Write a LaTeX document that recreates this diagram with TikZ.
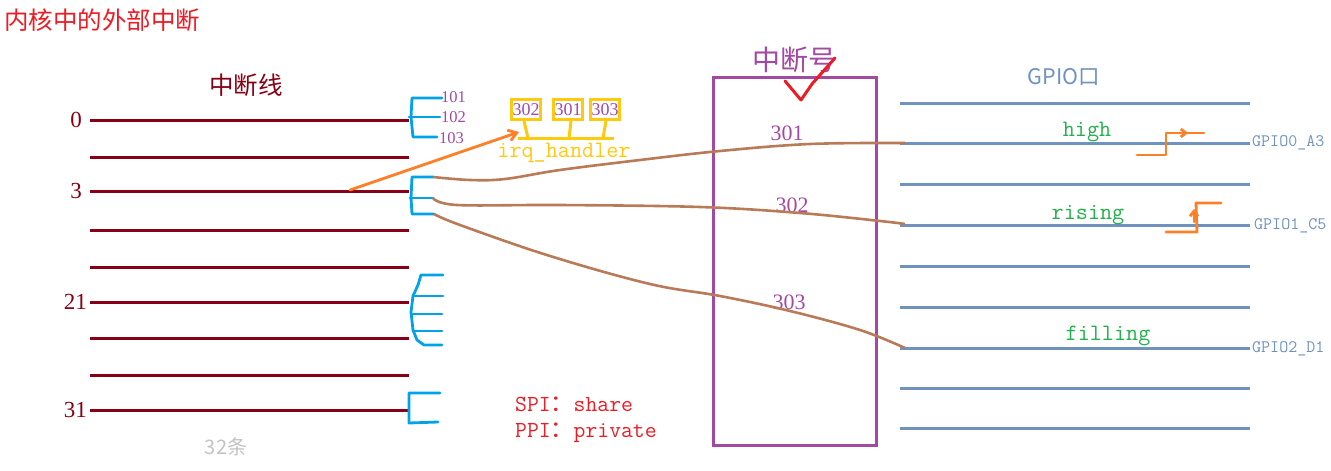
\documentclass[tikz,border=0pt]{standalone}
\usepackage{fontspec}
\setmainfont{Liberation Serif}
\newfontfamily\cjk{Noto Sans CJK SC}
\usetikzlibrary{arrows.meta}
\definecolor{dred}{HTML}{880015}
\definecolor{cyanb}{HTML}{00A2E8}
\definecolor{ppl}{HTML}{A349A4}
\definecolor{ylw}{HTML}{FFC90E}
\definecolor{org}{HTML}{FF7F27}
\definecolor{brn}{HTML}{B97A57}
\definecolor{sblue}{HTML}{7092BE}
\definecolor{grn}{HTML}{22B14C}
\definecolor{rd}{HTML}{ED1C24}
\definecolor{gry}{HTML}{C3C3C3}
\tikzset{
  irqline/.style={draw=dred,line width=3pt},
  gpioline/.style={draw=sblue,line width=3pt},
  brk/.style={draw=cyanb,line width=2.8pt,line cap=round,line join=round},
  brline/.style={draw=brn,line width=2.6pt},
  ybox/.style={draw=ylw,line width=3pt,minimum width=29pt,minimum height=20pt,inner sep=0pt},
  yl/.style={draw=ylw,line width=3pt},
  ol/.style={draw=org,line width=2.8pt,line cap=round,line join=round},
  numlab/.style={text=dred,font=\fontsize{23}{23}\selectfont,anchor=east,inner sep=0pt},
  irqnum/.style={text=ppl,font=\fontsize{22}{22}\selectfont,inner sep=0pt},
  smnum/.style={text=ppl,font=\fontsize{16.5}{16.5}\selectfont,anchor=west,inner sep=0pt},
  boxnum/.style={text=ppl,font=\fontsize{18}{18}\selectfont},
  gplab/.style={text=sblue,font=\ttfamily\fontsize{17.5}{17.5}\selectfont,anchor=west,inner sep=0pt},
  trig/.style={text=grn,font=\ttfamily\fontsize{23.5}{23.5}\selectfont,inner sep=0pt},
  spi/.style={text=rd,font=\ttfamily\fontsize{23}{23}\selectfont,anchor=west,inner sep=0pt},
}
\begin{document}
\begin{tikzpicture}[x=1pt,y=-1pt]
\useasboundingbox (0,0) rectangle (1331,471);
% title
\node[text=rd,font=\cjk\fontsize{24.5}{24.5}\selectfont,anchor=west,inner sep=0pt] (title) at (4,20) {内核中的外部中断};
\node[text=dred,font=\cjk\fontsize{24.5}{24.5}\selectfont,inner sep=0pt] (zdx) at (246,85) {中断线};
\node[text=gry,font=\cjk\fontsize{20}{20}\selectfont,inner sep=0pt] (n32) at (226,447) {32条};
% IRQ lines
\foreach \y [count=\i] in {120,157,191,230,267,302,338,375,410}{
  \coordinate (L\i a) at (90,\y);
  \coordinate (L\i b) at (409,\y);
  \draw[irqline] (L\i a) -- (L\i b);
}
\node[numlab] (l0) at (82,120) {0};
\node[numlab] (l3) at (82,191) {3};
\node[numlab] (l21) at (87,302) {21};
\node[numlab] (l31) at (87,410) {31};
% bracket 1
\draw[brk] (442,98) -- (412,98) -- (411,117) -- (413,137) -- (437,137);
\draw[brk] (409,117) -- (440,117);
\node[smnum] (n101) at (441,97) {101};
\node[smnum] (n102) at (441,117) {102};
\node[smnum] (n103) at (439,138) {103};
% bracket 2
\coordinate (b2a) at (433,177);
\coordinate (b2b) at (433,198);
\coordinate (b2c) at (434,214);
\draw[brk] (b2a) -- (412,177) -- (411,198) -- (412,214) -- (b2c);
\draw[brk] (410,198) -- (b2b);
% bracket 3
\draw[brk] (443,275) -- (421,275) -- (418,285) -- (413,296) -- (411,312) -- (413,330) -- (417,340) -- (424,345) -- (442,345);
\draw[brk] (413,296) -- (443,296);
\draw[brk] (411,314) -- (442,314);
\draw[brk] (413,331) -- (442,331);
% bracket 4
\draw[brk] (440,393) -- (409,393) -- (409,423) -- (438,422);
% orange arrow
\coordinate (oa) at (350,190);
\coordinate (ob) at (519,132);
\draw[ol,-{Straight Barb[length=8pt,width=11pt]}] (oa) -- (ob);
% yellow boxes
\node[ybox] (y302) at (526,109.5) {};
\node[ybox] (y301) at (568,109.5) {};
\node[ybox] (y303) at (605,109.5) {};
\node[boxnum] at (y302) {302};
\node[boxnum] at (y301) {301};
\node[boxnum] at (y303) {303};
\coordinate (yb1) at (518,138);
\coordinate (yb2) at (614,138);
\draw[yl] (yb1) -- (yb2);
\draw[yl] (y302.south) ++(-2,0) -- (528,138);
\draw[yl] (y301.south) ++(3,0) -- (569,138);
\draw[yl] (y303.south) ++(1,0) -- (603,138);
\node[text=ylw,font=\ttfamily\fontsize{23.5}{23.5}\selectfont,inner sep=0pt] (irqh) at (564,153) {irq\_handler};
% interrupt number box
\node[draw=ppl,line width=3pt,minimum width=163pt,minimum height=368pt,inner sep=0pt] (box) at (794.5,261) {};
\node[text=ppl,font=\cjk\fontsize{28}{28}\selectfont,inner sep=0pt] (zdh) at (794,60) {中断号};
\draw[draw=rd,line width=3pt,line cap=round,line join=round] (785,81) -- (801,100) -- (812,84) -- (835,58);
\node[irqnum] (i301) at (787,133) {301};
\node[irqnum] (i302) at (792,205) {302};
\node[irqnum] (i303) at (789,302) {303};
% GPIO lines
\foreach \y [count=\i] in {103,143,184,225,266,307,348,388,428}{
  \coordinate (G\i a) at (900,\y);
  \coordinate (G\i b) at (1250,\y);
  \draw[gpioline] (G\i a) -- (G\i b);
}
\node[text=sblue,font=\cjk\fontsize{21.5}{21.5}\selectfont,inner sep=0pt] (gpiok) at (1064,77) {GPIO口};
\node[gplab] (g0) at (1252,143) {GPIO0\_A3};
\node[gplab] (g1) at (1254,226) {GPIO1\_C5};
\node[gplab] (g2) at (1252,349) {GPIO2\_D1};
\node[trig] (thigh) at (1087,132) {high};
\node[trig] (trise) at (1088,215) {rising};
\node[trig] (tfill) at (1108,336) {filling};
% brown curves
\coordinate (e1) at (905,143);
\coordinate (e2) at (905,224);
\coordinate (e3) at (905,348);
\draw[brline] plot[smooth,tension=0.6] coordinates {(b2a) (470,180) (505,179) (560,170) (640,160) (720,151) (810,144) (e1)};
\draw[brline] plot[smooth,tension=0.6] coordinates {(b2b) (457,205) (560,205) (700,207) (800,213) (880,221) (e2)};
\draw[brline] plot[smooth,tension=0.6] coordinates {(b2c) (460,225) (550,256) (650,284) (720,296) (790,311) (860,330) (e3)};
% waveforms
\draw[ol] (1137,155) -- (1166,155) -- (1166,133) -- (1204,133);
\draw[ol,-{Straight Barb[length=5pt,width=8pt]}] (1174,133) -- (1188,133);
\draw[ol] (1166,232) -- (1197,232) -- (1196,203) -- (1221,203);
\draw[ol,-{Straight Barb[length=5pt,width=8pt]}] (1194,222) -- (1194,209);
% SPI/PPI
\node[spi] (spi) at (515,404) {SPI{\cjk ：}share};
\node[spi] (ppi) at (515,433) {PPI{\cjk ：}private};
\end{tikzpicture}
\end{document}
